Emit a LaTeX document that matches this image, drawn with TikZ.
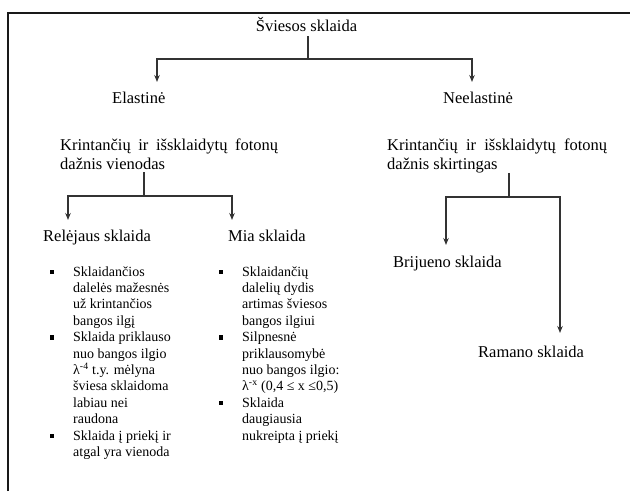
\documentclass[tikz,border=0pt]{standalone}
\usepackage{fontspec}
\setmainfont{Liberation Serif}
\usetikzlibrary{arrows.meta}

\begin{document}
\begin{tikzpicture}[x=1pt, y=-1pt]
		\tikzset{lbl/.style={anchor=base west, inner sep=0pt, font=\fontsize{16.5}{19}\selectfont, align=left}};
		\tikzset{itm/.style={anchor=base west, inner sep=0pt, font=\fontsize{14}{16.4}\selectfont, align=left}};
		\tikzset{blt/.style={rectangle, fill=black, inner sep=0pt, minimum size=4.3pt}};
		\tikzset{ln/.style={draw=black!80, line width=1.1pt}};
		\tikzset{arr/.style={ln, -{Stealth[length=7pt, width=5.5pt]}}};

		\useasboundingbox (0,0) rectangle (630,491);
		\draw[line width=1.6pt, black!90] (8,491) -- (8,13) -- (630,13);

		% base = baseline of the last line
		\node[lbl, anchor=base] (sv) at (306.5, 31) {Šviesos sklaida};
		\node[lbl] (ela) at (112, 103.5) {Elastinė};
		\node[lbl] (nela) at (443, 103.5) {Neelastinė};

		\node[lbl] (kl) at (60, 169) {\hbox to 218pt{Krintančių\hfill ir\hfill išsklaidytų\hfill fotonų}\\dažnis vienodas};
		\node[lbl] (kr) at (387, 169) {\hbox to 220pt{Krintančių\hfill ir\hfill išsklaidytų\hfill fotonų}\\dažnis skirtingas};

		\node[lbl] (rel) at (43, 241) {Relėjaus sklaida};
		\node[lbl] (mia) at (228, 241) {Mia sklaida};
		\node[lbl] (bri) at (393, 267) {Brijueno sklaida};
		\node[lbl] (ram) at (478, 357) {Ramano sklaida};

		% Relėjaus
		\node[itm] (r1) at (73, 325.2) {Sklaidančios\\dalelės mažesnės\\už krintančios\\bangos ilgį};
		\node[itm] (r2) at (73, 423.6) {Sklaida priklauso\\nuo bangos ilgio\\λ\textsuperscript{-4} t.y. mėlyna\\šviesa sklaidoma\\labiau nei\\raudona};
		\node[itm] (r3) at (73, 456.4) {Sklaida į priekį ir\\atgal yra vienoda};
		\node[blt] (rb1) at (52, 272) {};
		\node[blt] (rb2) at (52, 337.6) {};
		\node[blt] (rb3) at (52, 436) {};

		% Mia
		\node[itm] (m1) at (242, 325.2) {Sklaidančių\\dalelių dydis\\artimas šviesos\\bangos ilgiui};
		\node[itm] (m2) at (242, 390.8) {Silpnesnė\\priklausomybė\\nuo bangos ilgio:\\λ\textsuperscript{-x} (0,4 ≤ x ≤0,5)};
		\node[itm] (m3) at (242, 440) {Sklaida\\daugiausia\\nukreipta į priekį};
		\node[blt] (mb1) at (221, 272) {};
		\node[blt] (mb2) at (221, 337.6) {};
		\node[blt] (mb3) at (221, 403.2) {};

		\coordinate (j1) at (308, 59);
		\coordinate (e1) at (157, 82);
		\coordinate (n1) at (472, 82);
		\coordinate (j2) at (144, 196);
		\coordinate (rl1) at (68, 220);
		\coordinate (mi1) at (232, 220);
		\coordinate (j3) at (509, 197);
		\coordinate (br1) at (446, 245);
		\coordinate (ra1) at (560, 333);

		\draw[ln] (sv.south -| j1) ++(0,5) -- (j1);
		\draw[arr] (j1) -| (e1);
		\draw[arr] (j1) -| (n1);

		\draw[ln] (kl.south -| j2) ++(0,3) -- (j2);
		\draw[arr] (j2) -| (rl1);
		\draw[arr] (j2) -| (mi1);

		\draw[ln] (kr.south -| j3) -- (j3);
		\draw[arr] (j3) -| (br1);
		\draw[arr] (j3) -| (ra1);
	\end{tikzpicture}
\end{document}
